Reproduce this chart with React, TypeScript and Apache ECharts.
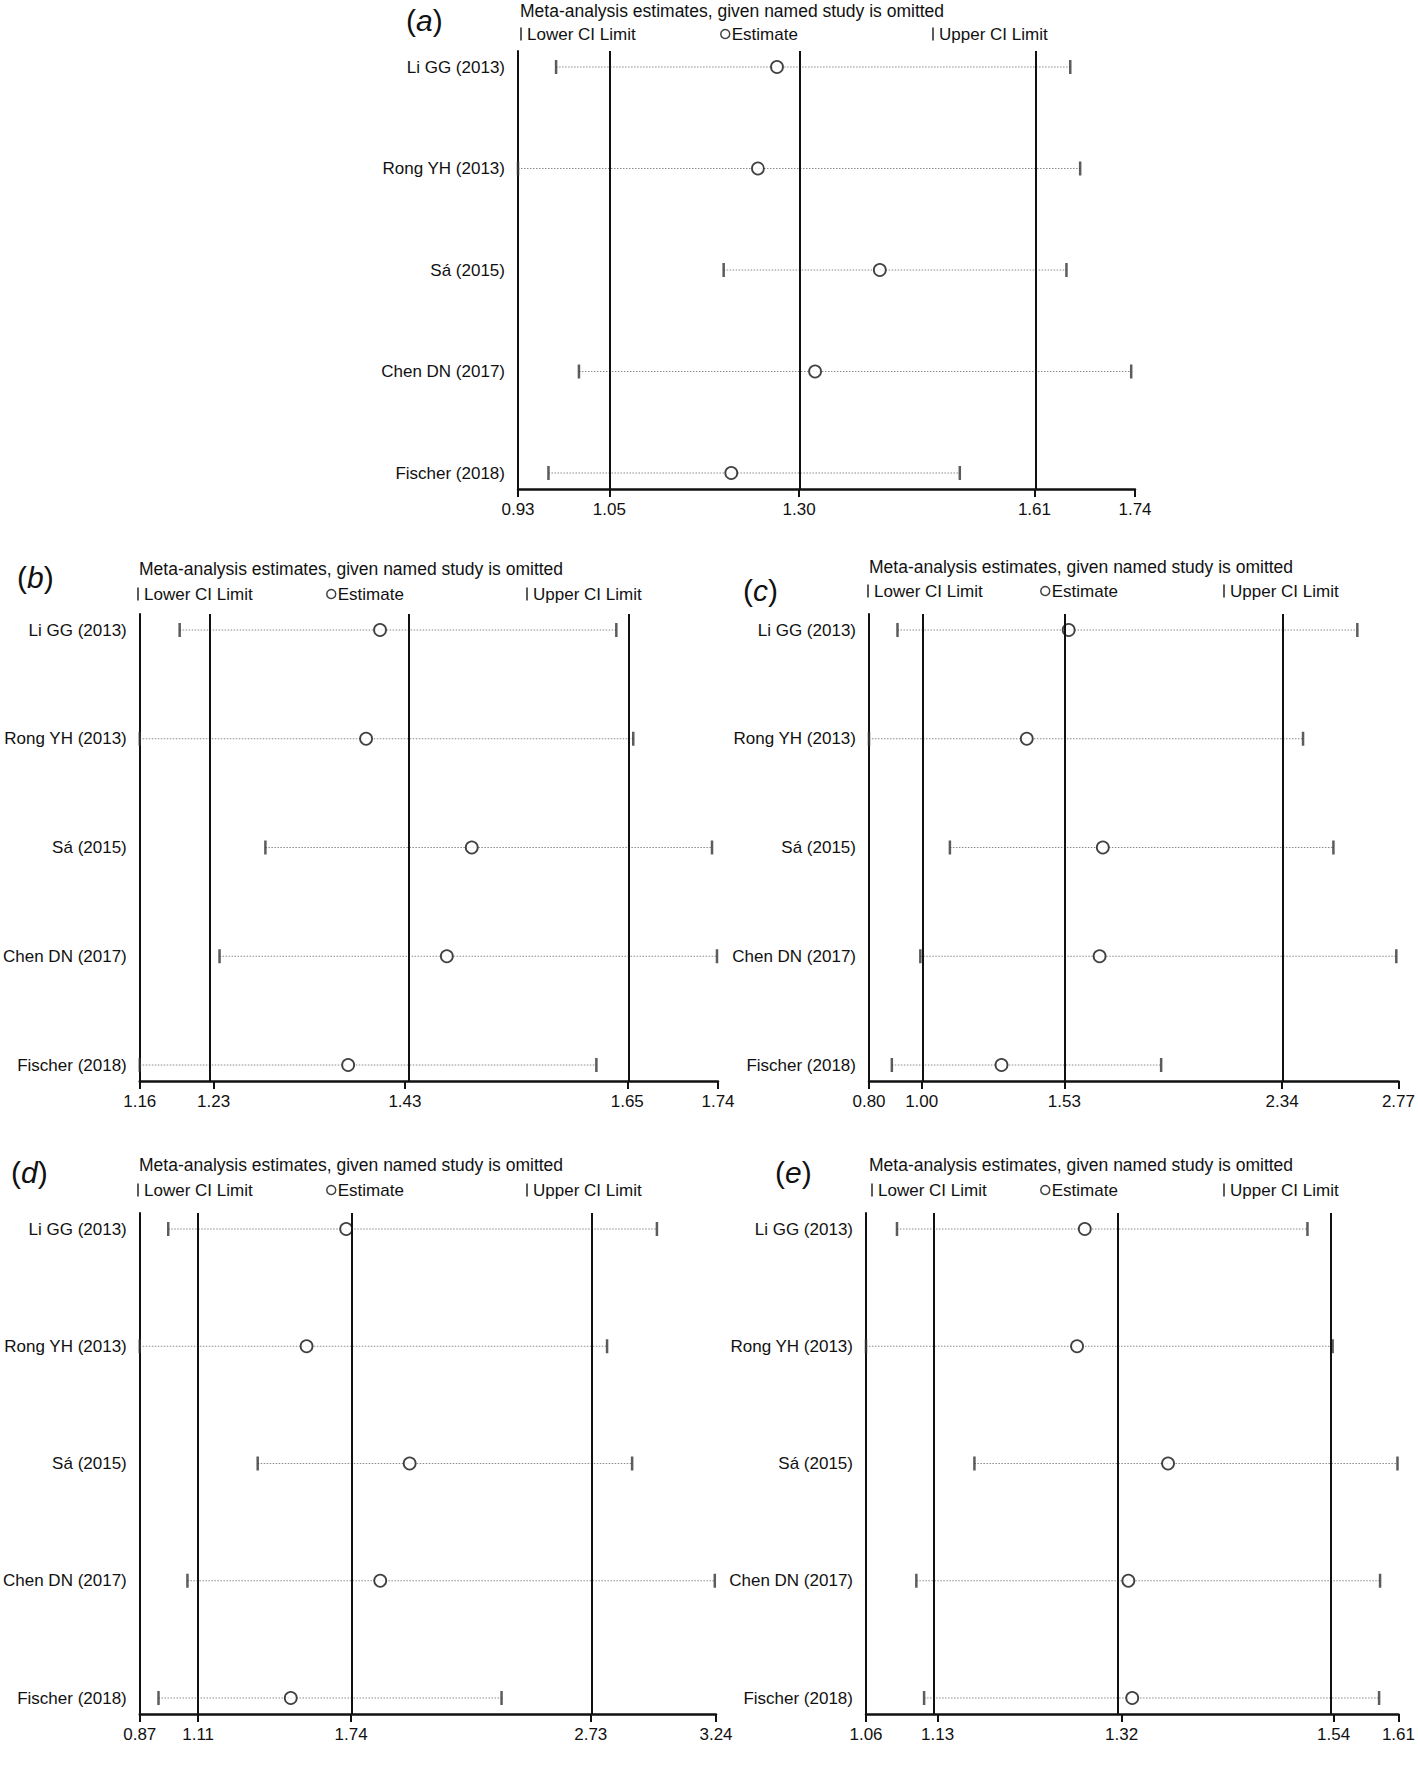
import React, { useEffect, useRef } from "react";
import * as echarts from "echarts";

// ---------- data ----------
const studies = ["Li GG (2013)", "Rong YH (2013)", "Sá (2015)", "Chen DN (2017)", "Fischer (2018)"];

const aLower = [0.98, 0.93, 1.2, 1.01, 0.97];
const aEst = [1.27, 1.245, 1.405, 1.32, 1.21];
const aUpper = [1.655, 1.668, 1.65, 1.735, 1.51];
const aTicks = [0.93, 1.05, 1.299, 1.608, 1.74];

const bLower = [1.2, 1.16, 1.286, 1.24, 1.16];
const bEst = [1.401, 1.387, 1.493, 1.468, 1.369];
const bUpper = [1.638, 1.655, 1.734, 1.739, 1.618];
const bTicks = [1.16, 1.234, 1.426, 1.649, 1.74];

const cLower = [0.906, 0.8, 1.101, 0.991, 0.885];
const cEst = [1.543, 1.387, 1.67, 1.658, 1.293];
const cUpper = [2.617, 2.415, 2.528, 2.762, 1.887];
const cTicks = [0.8, 0.996, 1.527, 2.337, 2.77];

const dLower = [0.987, 0.87, 1.355, 1.066, 0.947];
const dEst = [1.719, 1.556, 1.98, 1.859, 1.491];
const dUpper = [2.997, 2.792, 2.895, 3.235, 2.358];
const dTicks = [0.87, 1.11, 1.739, 2.725, 3.24];

const eLower = [1.092, 1.06, 1.172, 1.112, 1.12];
const eEst = [1.286, 1.278, 1.372, 1.331, 1.335];
const eUpper = [1.516, 1.542, 1.609, 1.591, 1.59];
const eTicks = [1.06, 1.134, 1.324, 1.543, 1.61];

const letters = ["a", "b", "c", "d", "e"];
const titleText = "Meta-analysis estimates, given named study is omitted";
const legendNames = ["Lower CI Limit", "Estimate", "Upper CI Limit"];

// the three vertical reference lines are the inner ticks (overall lower CI, estimate, upper CI)
const panels = [
  { lower: aLower, est: aEst, upper: aUpper, ticks: aTicks },
  { lower: bLower, est: bEst, upper: bUpper, ticks: bTicks },
  { lower: cLower, est: cEst, upper: cUpper, ticks: cTicks },
  { lower: dLower, est: dEst, upper: dUpper, ticks: dTicks },
  { lower: eLower, est: eEst, upper: eUpper, ticks: eTicks },
];

// ---------- layout ----------
const layout = [
  { grid: { left: 518, top: 51, width: 617, height: 438 }, letter: [406, 20], title: [520, 11], legendY: 34, legendX: [520, 720, 932] },
  { grid: { left: 135, top: 614, width: 583, height: 467 }, letter: [17, 577], title: [139, 569], legendY: 594, legendX: [137, 326, 526] },
  { grid: { left: 869, top: 614, width: 531, height: 467 }, letter: [743, 590], title: [869, 567], legendY: 591, legendX: [867, 1040, 1223] },
  { grid: { left: 135, top: 1213, width: 581, height: 501 }, letter: [11, 1172], title: [139, 1165], legendY: 1190, legendX: [137, 326, 526] },
  { grid: { left: 866, top: 1213, width: 534, height: 501 }, letter: [775, 1172], title: [869, 1165], legendY: 1190, legendX: [871, 1040, 1223] },
];

const FONT = "'Liberation Sans', Arial, sans-serif";
const LABEL_SIZE = 17;
const TITLE_SIZE = 17.5;
const INK = "#111";

function buildOption() {
  const grids: any[] = [];
  const xAxes: any[] = [];
  const yAxes: any[] = [];
  const series: any[] = [];
  const legends: any[] = [];
  const graphics: any[] = [];

  panels.forEach((p, i) => {
    const L = layout[i];
    grids.push({ ...L.grid, containLabel: false });
    const pad = (16 * 4) / (L.grid.height - 32);
    const refLines = p.ticks.slice(1, p.ticks.length - 1);
    xAxes.push({
      type: "value",
      gridIndex: i,
      position: "bottom",
      min: p.ticks[0],
      max: p.ticks[p.ticks.length - 1],
      splitLine: { show: false },
      axisLine: { show: true, onZero: false, lineStyle: { color: INK, width: 2.5 } },
      axisTick: { show: true, length: 8, lineStyle: { color: INK, width: 2 }, customValues: p.ticks },
      axisLabel: {
        customValues: p.ticks,
        formatter: (v: number) => v.toFixed(2),
        color: INK,
        fontSize: LABEL_SIZE,
        fontFamily: FONT,
        margin: 12,
        hideOverlap: false,
      },
    });
    yAxes.push({
      type: "value",
      gridIndex: i,
      inverse: true,
      min: -pad,
      max: 4 + pad,
      splitLine: { show: false },
      axisLine: { show: true, onZero: false, lineStyle: { color: INK, width: 2 } },
      axisTick: { show: false },
      axisLabel: {
        customValues: [0, 1, 2, 3, 4],
        formatter: (v: number) => studies[Math.round(v)] ?? "",
        color: INK,
        fontSize: LABEL_SIZE,
        fontFamily: FONT,
        margin: 13,
        hideOverlap: false,
      },
    });

    // dotted CI lines
    series.push({
      type: "custom",
      xAxisIndex: i,
      yAxisIndex: i,
      silent: true,
      z: 1,
      data: p.lower.map((l, k) => [l, p.upper[k], k]),
      encode: { x: [0, 1], y: 2 },
      renderItem: (params: any, api: any) => {
        const y = api.value(2);
        const p1 = api.coord([api.value(0), y]);
        const p2 = api.coord([api.value(1), y]);
        return {
          type: "line",
          shape: { x1: p1[0], y1: p1[1], x2: p2[0], y2: p2[1] },
          style: { stroke: "#8a8a8a", lineWidth: 1, lineDash: [1.5, 1.5] },
        };
      },
    });
    series.push({
      type: "scatter",
      name: "Lower CI Limit",
      xAxisIndex: i,
      yAxisIndex: i,
      silent: true,
      z: 3,
      symbol: "rect",
      symbolSize: [2.5, 14],
      itemStyle: { color: "#333" },
      data: p.lower.map((v, k) => [v, k]),
      markLine: {
        silent: true,
        symbol: "none",
        label: { show: false },
        lineStyle: { color: INK, width: 2, type: "solid" },
        data: refLines.map((v) => ({ xAxis: v })),
      },
    });
    series.push({
      type: "scatter",
      name: "Upper CI Limit",
      xAxisIndex: i,
      yAxisIndex: i,
      silent: true,
      z: 3,
      symbol: "rect",
      symbolSize: [2.5, 14],
      itemStyle: { color: "#333" },
      data: p.upper.map((v, k) => [v, k]),
    });
    series.push({
      type: "scatter",
      name: "Estimate",
      xAxisIndex: i,
      yAxisIndex: i,
      silent: true,
      z: 4,
      symbol: "circle",
      symbolSize: 12,
      itemStyle: { color: "#fff", borderColor: INK, borderWidth: 1.8 },
      data: p.est.map((v, k) => [v, k]),
    });

    legendNames.forEach((name, j) => {
      const isEst = name === "Estimate";
      legends.push({
        left: L.legendX[j],
        top: L.legendY - 10,
        padding: 0,
        selectedMode: false,
        data: [name],
        icon: isEst ? "circle" : "rect",
        itemWidth: isEst ? 9 : 2,
        itemHeight: isEst ? 9 : 13,
        itemStyle: isEst
          ? { color: "#fff", borderColor: INK, borderWidth: 1.5 }
          : { color: "#333", borderWidth: 0 },
        textStyle: { color: INK, fontSize: LABEL_SIZE, fontFamily: FONT, lineHeight: 20, padding: [0, 0, 0, isEst ? -3 : 0] },
      });
    });

    graphics.push({
      type: "text",
      x: L.letter[0],
      y: L.letter[1],
      style: {
        text: `{p|(}{i|${letters[i]}}{p|)}`,
        verticalAlign: "middle",
        rich: {
          p: { fontSize: 30, fontFamily: FONT, fill: INK },
          i: { fontSize: 30, fontStyle: "italic", fontFamily: FONT, fill: INK },
        },
      },
    });
    graphics.push({
      type: "text",
      x: L.title[0],
      y: L.title[1],
      style: { text: titleText, verticalAlign: "middle", fontSize: TITLE_SIZE, fontFamily: FONT, fill: INK },
    });
  });

  return {
    animation: false,
    backgroundColor: "#fff",
    grid: grids,
    xAxis: xAxes,
    yAxis: yAxes,
    legend: legends,
    series,
    graphic: graphics,
  };
}

export default function App() {
  const ref = useRef<HTMLDivElement>(null);
  useEffect(() => {
    document.body.style.margin = "0";
    if (!ref.current) return;
    const chart = echarts.init(ref.current, undefined, { renderer: "svg" });
    chart.setOption(buildOption());
    return () => chart.dispose();
  }, []);
  return <div ref={ref} style={{ width: 1418, height: 1790 }} />;
}
